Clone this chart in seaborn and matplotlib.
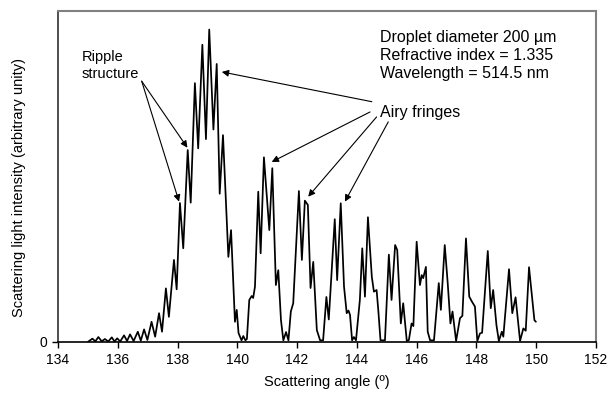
import matplotlib
matplotlib.use("Agg")
import matplotlib.pyplot as plt
import seaborn as sns
import pandas as pd

# Measured rainbow scattering profile (angle in degrees, intensity in arbitrary units)
angle = [
    135.01, 135.15, 135.25, 135.35, 135.46, 135.57, 135.68, 135.80, 135.89, 135.98,
    136.08, 136.21, 136.31, 136.41, 136.53, 136.67, 136.77, 136.88, 136.99, 137.13,
    137.25, 137.38, 137.48, 137.61, 137.71, 137.88, 137.97, 138.08, 138.19, 138.34,
    138.44, 138.58, 138.69, 138.83, 138.95, 139.06, 139.20, 139.31, 139.41, 139.52,
    139.70, 139.79, 139.92, 139.98, 140.04, 140.14, 140.20, 140.27, 140.32, 140.40,
    140.48, 140.53, 140.59, 140.70, 140.78, 140.89, 141.07, 141.17, 141.29, 141.37,
    141.46, 141.54, 141.63, 141.71, 141.79, 141.87, 142.06, 142.16, 142.26, 142.36,
    142.45, 142.54, 142.66, 142.77, 142.87, 142.98, 143.06, 143.26, 143.34, 143.46,
    143.57, 143.66, 143.72, 143.77, 143.84, 143.90, 143.97, 144.10, 144.18, 144.27,
    144.37, 144.50, 144.57, 144.66, 144.72, 144.79, 144.94, 145.07, 145.16, 145.28,
    145.35, 145.47, 145.55, 145.67, 145.74, 145.83, 145.89, 146.00, 146.11, 146.17,
    146.22, 146.31, 146.37, 146.45, 146.58, 146.74, 146.81, 146.94, 147.04, 147.13,
    147.20, 147.32, 147.45, 147.53, 147.65, 147.76, 147.85, 147.95, 148.03, 148.12,
    148.19, 148.38, 148.48, 148.56, 148.67, 148.75, 148.85, 148.90, 149.09, 149.20,
    149.31, 149.46, 149.57, 149.65, 149.76, 149.94, 149.99,
]
intensity = [
    0.1, 1.0, 0.2, 1.5, 0.2, 0.9, 0.15, 1.4, 0.15, 1.1,
    0.15, 2.0, 0.3, 2.3, 0.3, 3.1, 0.4, 3.8, 0.6, 6.1,
    1.6, 8.7, 3.1, 16.2, 7.6, 24.8, 15.9, 42.0, 28.3, 58.0,
    42.1, 78.2, 58.5, 89.8, 61.3, 94.4, 64.2, 84.0, 44.8, 62.5,
    25.7, 33.8, 6.1, 9.7, 2.7, 0.5, 1.8, 0.5, 0.9, 12.7,
    13.9, 13.3, 16.7, 45.4, 26.8, 55.8, 33.8, 52.5, 17.2, 21.7,
    6.6, 0.5, 3.0, 0.5, 9.2, 11.7, 45.6, 24.8, 42.7, 41.4,
    16.3, 24.2, 3.6, 0.5, 0.5, 13.6, 6.8, 37.1, 18.7, 41.9,
    16.7, 8.7, 9.5, 8.2, 0.5, 1.5, 0.5, 12.7, 28.3, 13.7,
    37.7, 19.7, 15.2, 15.7, 9.2, 0.5, 0.5, 26.4, 12.7, 29.3,
    27.8, 5.6, 11.7, 0.3, 0.6, 5.6, 4.8, 30.3, 17.2, 20.2,
    19.3, 22.7, 3.1, 0.5, 0.5, 17.8, 9.7, 29.3, 17.7, 5.6,
    9.2, 0.3, 7.2, 7.9, 31.3, 13.7, 12.2, 10.7, 0.3, 2.6,
    2.8, 27.5, 10.2, 15.7, 5.1, 0.3, 3.1, 1.6, 22.0, 8.7,
    13.5, 0.3, 4.1, 3.4, 22.6, 6.6, 6.1,
]

x_ticks = [134, 136, 138, 140, 142, 144, 146, 148, 150, 152]
y_ticks = [0]

info_lines = ["Droplet diameter 200 \u00b5m", "Refractive index = 1.335", "Wavelength = 514.5 nm"]

sns.set_theme(style="white")
plt.rcParams["font.family"] = ["Liberation Sans", "DejaVu Sans"]

fig = plt.figure(figsize=(6.1, 3.96), dpi=100)
ax = fig.add_axes([0.0951, 0.1364, 0.8819, 0.8358])

df = pd.DataFrame({"angle": angle, "intensity": intensity})
sns.lineplot(data=df, x="angle", y="intensity", ax=ax, color="black",
             linewidth=1.25, estimator=None, sort=False)

ax.set_xlim(134, 152)
ax.set_ylim(0, 100)
ax.set_xticks(x_ticks)
ax.set_xticklabels([str(t) for t in x_ticks])
ax.set_yticks(y_ticks)
ax.set_yticklabels(["0"])
ax.tick_params(axis="both", which="major", direction="out", length=4, width=1,
               color="black", labelsize=10, labelcolor="black", pad=4)
ax.tick_params(axis="x", bottom=True)
ax.tick_params(axis="y", left=True)

ax.set_xlabel("Scattering angle (\u00ba)", fontsize=10.5, labelpad=6, color="black")
ax.set_ylabel("Scattering light intensity (arbitrary unity)", fontsize=10.5,
              color="black")
ax.yaxis.set_label_coords(-0.06, 0.468)

for side in ["top", "right"]:
    ax.spines[side].set_color("#808080")
    ax.spines[side].set_linewidth(1.5)
ax.spines["left"].set_color("#404040")
ax.spines["left"].set_linewidth(1.3)
ax.spines["bottom"].set_color("black")
ax.spines["bottom"].set_linewidth(1.2)

# Parameter block in the upper right
ax.text(144.79, 94.3, "\n".join(info_lines), fontsize=11.5, ha="left", va="top",
        linespacing=1.27, color="black")

arrow = dict(arrowstyle="-|>", color="black", lw=0.8, mutation_scale=10,
             shrinkA=0, shrinkB=0)

# Ripple structure labels
ax.text(134.79, 83.5, "Ripple\nstructure", fontsize=10.5, ha="left", va="center",
        linespacing=1.25, color="black")
for head in [(138.33, 58.7), (138.05, 42.4)]:
    ax.annotate("", xy=head, xytext=(136.80, 78.8), arrowprops=arrow)

# Airy fringe labels
ax.text(144.79, 69.2, "Airy fringes", fontsize=11.5, ha="left", va="center",
        color="black")
airy_arrows = [
    ((139.48, 81.6), (144.50, 72.6)),
    ((141.15, 54.4), (144.44, 69.5)),
    ((142.37, 43.9), (144.66, 68.0)),
    ((143.60, 42.4), (145.05, 66.5)),
]
for head, tail in airy_arrows:
    ax.annotate("", xy=head, xytext=tail, arrowprops=arrow)

fig.savefig("out.png", dpi=100)
